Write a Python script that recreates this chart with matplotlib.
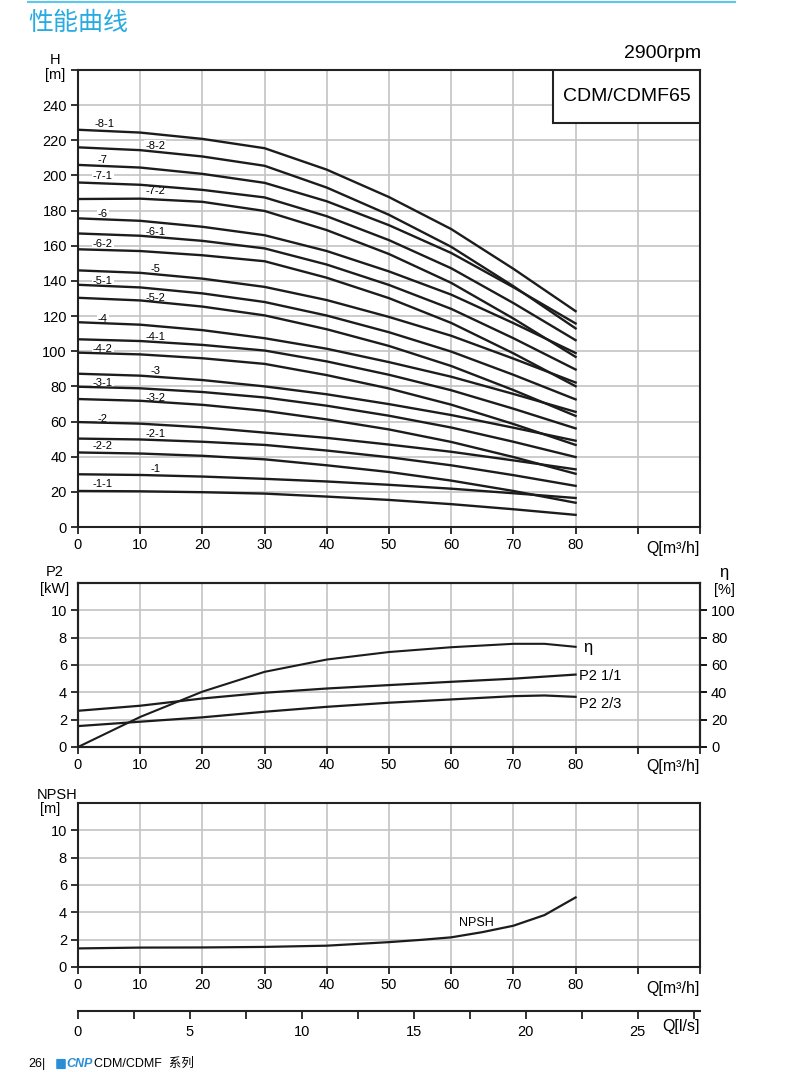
import numpy as np
import matplotlib
matplotlib.use('Agg')
import matplotlib.pyplot as plt
from matplotlib.patches import Rectangle, FancyBboxPatch
from matplotlib.lines import Line2D

plt.rcParams['font.family'] = ['Liberation Sans', 'Noto Sans CJK SC', 'DejaVu Sans']

# ---- data ----
Q_H = [0, 10, 20, 30, 40, 50, 60, 70, 80]
curve_names = ['-8-1', '-8-2', '-7', '-7-1', '-7-2', '-6', '-6-1', '-6-2',
               '-5', '-5-1', '-5-2', '-4', '-4-1', '-4-2', '-3', '-3-1', '-3-2',
               '-2', '-2-1', '-2-2', '-1', '-1-1']
curve_heads = [
    [226.0, 224.4, 220.8, 215.5, 203.3, 187.7, 169.5, 146.9, 122.8],
    [216.0, 214.4, 210.8, 205.5, 193.1, 177.6, 159.4, 137.0, 113.0],
    [206.0, 204.5, 200.9, 195.8, 185.3, 171.7, 155.9, 136.4, 115.8],
    [196.0, 194.7, 191.8, 187.5, 176.8, 163.2, 147.2, 127.4, 106.3],
    [186.6, 186.8, 185.0, 179.8, 168.9, 155.3, 138.9, 118.6, 96.8],
    [175.6, 174.2, 170.8, 166.0, 157.0, 145.4, 132.2, 116.0, 99.0],
    [167.0, 165.7, 162.8, 158.5, 149.3, 137.7, 124.1, 107.4, 89.6],
    [158.0, 157.0, 154.6, 151.2, 141.8, 130.2, 116.1, 98.8, 80.1],
    [146.0, 144.6, 141.3, 136.6, 129.1, 119.5, 108.8, 95.8, 82.2],
    [137.8, 136.3, 132.9, 128.0, 120.3, 110.8, 99.8, 86.6, 72.6],
    [130.4, 128.9, 125.4, 120.4, 112.5, 103.0, 91.6, 77.9, 63.2],
    [116.5, 115.1, 112.0, 107.4, 101.4, 93.8, 85.5, 75.7, 65.5],
    [106.8, 105.8, 103.6, 100.4, 94.2, 86.6, 77.8, 67.3, 56.1],
    [99.2, 98.2, 96.0, 92.8, 86.4, 78.8, 69.6, 58.6, 46.7],
    [87.2, 86.1, 83.6, 80.0, 75.5, 69.9, 63.7, 56.5, 49.1],
    [79.8, 78.9, 76.8, 73.7, 69.0, 63.3, 56.6, 48.5, 39.8],
    [72.8, 71.8, 69.5, 66.1, 61.2, 55.5, 48.4, 39.8, 30.3],
    [59.7, 58.8, 56.7, 53.7, 50.7, 46.9, 42.8, 37.9, 32.8],
    [50.3, 49.8, 48.5, 46.7, 43.5, 39.7, 35.1, 29.5, 23.4],
    [42.4, 41.8, 40.5, 38.5, 35.1, 31.3, 26.4, 20.5, 13.8],
    [30.0, 29.6, 28.7, 27.4, 25.9, 24.0, 21.8, 19.2, 16.5],
    [20.5, 20.3, 19.8, 19.0, 17.3, 15.4, 13.0, 10.1, 6.9],
]
# label anchors (Q, H) for the curve names
label_pos = [(4.3, 229), (12.4, 216.6), (4.0, 209), (4.0, 199.5), (12.4, 191),
             (4.0, 178), (12.4, 167.6), (4.0, 160.8), (12.4, 147), (4.0, 140),
             (12.4, 130.5), (4.0, 118.6), (12.4, 108.3), (4.0, 101.5), (12.4, 89),
             (4.0, 82), (12.4, 73.5), (4.0, 61.6), (12.4, 53), (4.0, 46.2),
             (12.4, 33), (4.0, 24.5)]

Q_P = [0, 10, 20, 30, 40, 50, 60, 70, 75, 80]
eta = [0, 22, 40.5, 55, 64, 69.5, 73, 75.5, 75.5, 73.3]
p2_full = [2.65, 3.02, 3.55, 3.97, 4.28, 4.53, 4.77, 5.0, 5.15, 5.3]
p2_23 = [1.53, 1.85, 2.17, 2.58, 2.94, 3.24, 3.48, 3.72, 3.77, 3.67]

Q_N = [0, 10, 20, 30, 40, 50, 55, 60, 65, 70, 75, 80]
npsh = [1.36, 1.42, 1.43, 1.47, 1.56, 1.82, 1.98, 2.17, 2.55, 3.02, 3.8, 5.09]

W, HT = 786, 1072
fig = plt.figure(figsize=(7.86, 10.72), dpi=100)

def fx(x):
    return x / W

def fy(y):
    return 1 - y / HT

def rect(top, bottom):
    return [fx(78), fy(bottom), fx(700) - fx(78), (bottom - top) / HT]

LINE = '#1c1c1c'
GRID = '#c4c4c4'

def style(ax, ymax, yticks):
    ax.set_xlim(0, 100)
    ax.set_ylim(0, ymax)
    ax.set_xticks(range(0, 101, 10))
    ax.set_xticklabels([str(v) if v <= 80 else '' for v in range(0, 101, 10)])
    ax.set_yticks(yticks)
    ax.grid(True, color=GRID, lw=1.2)
    ax.set_axisbelow(True)
    for s in ax.spines.values():
        s.set_linewidth(1.5)
        s.set_color('#222222')
    ax.tick_params(direction='out', length=5, width=1.3, labelsize=10.5,
                   pad=3, color='#222222')

# ---- header ----
fig.add_artist(Line2D([fx(28), fx(735)], [fy(1.5), fy(1.5)], color='#5bc8ec', lw=1.5))
fig.text(fx(28), fy(23), '性能曲线', fontsize=18, color='#29abe2',
         family=['Noto Sans CJK SC'], va='center', ha='left')
fig.text(fx(701), fy(53), '2900rpm', fontsize=14, ha='right', va='center')

# ---- head curves ----
ax1 = fig.add_axes(rect(70, 527))
style(ax1, 260, range(0, 261, 20))
ax1.set_yticklabels([str(v) if v <= 240 else '' for v in range(0, 261, 20)])
for name, hv, (lq, lh) in zip(curve_names, curve_heads, label_pos):
    ax1.plot(Q_H, hv, color=LINE, lw=1.7, zorder=3)
    ax1.text(lq, lh, name, fontsize=8, ha='center', va='center', zorder=1.5,
             bbox=dict(facecolor='white', edgecolor='none', pad=0.8))
ax1.add_patch(Rectangle((0.7637, 0.884), 0.2363, 0.116, transform=ax1.transAxes,
                        facecolor='white', edgecolor='#222222', lw=1.5, zorder=5))
ax1.text(0.882, 0.942, 'CDM/CDMF65', transform=ax1.transAxes, fontsize=14,
         ha='center', va='center', zorder=6)
fig.text(fx(55), fy(60), 'H', fontsize=10.5, ha='center', va='center')
fig.text(fx(55), fy(75), '[m]', fontsize=10.5, ha='center', va='center')
fig.text(fx(700), fy(548), 'Q[m³/h]', fontsize=11.5, ha='right', va='center')

# ---- power / efficiency ----
ax2 = fig.add_axes(rect(583, 747))
style(ax2, 12, range(0, 11, 2))
ax2r = ax2.twinx()
ax2r.set_ylim(0, 120)
ax2r.set_yticks(range(0, 101, 20))
ax2r.tick_params(direction='out', length=5, width=1.3, labelsize=10.5, pad=3)
for s in ax2r.spines.values():
    s.set_linewidth(1.5)
    s.set_color('#222222')
ax2r.plot(Q_P, eta, color=LINE, lw=1.5)
ax2.plot(Q_P, p2_full, color=LINE, lw=1.6)
ax2.plot(Q_P, p2_23, color=LINE, lw=1.6)
ax2.text(81.2, 7.25, 'η', fontsize=12, ha='left', va='center')
ax2.text(80.6, 5.2, 'P2 1/1', fontsize=10.5, ha='left', va='center')
ax2.text(80.6, 3.15, 'P2 2/3', fontsize=10.5, ha='left', va='center')
fig.text(fx(55), fy(572), 'P2', fontsize=10.5, ha='center', va='center')
fig.text(fx(55), fy(589), '[kW]', fontsize=10.5, ha='center', va='center')
fig.text(fx(724), fy(572), 'η', fontsize=12, ha='center', va='center')
fig.text(fx(724), fy(590), '[%]', fontsize=10.5, ha='center', va='center')
fig.text(fx(700), fy(767), 'Q[m³/h]', fontsize=11.5, ha='right', va='center')

# ---- NPSH ----
ax3 = fig.add_axes(rect(803, 967))
style(ax3, 12, range(0, 11, 2))
ax3.plot(Q_N, npsh, color=LINE, lw=1.6)
ax3.text(64, 3.25, 'NPSH', fontsize=9, ha='center', va='center')
fig.text(fx(57), fy(795), 'NPSH', fontsize=10.5, ha='center', va='center')
fig.text(fx(50), fy(809), '[m]', fontsize=10.5, ha='center', va='center')
fig.text(fx(700), fy(988), 'Q[m³/h]', fontsize=11.5, ha='right', va='center')

# ---- l/s scale ----
ax4 = fig.add_axes([fx(78), fy(1011), fx(700) - fx(78), 0.0001])
ax4.set_xlim(0, 100 / 3.6)
ax4.set_yticks([])
for k in ['top', 'left', 'right']:
    ax4.spines[k].set_visible(False)
ax4.spines['bottom'].set_linewidth(1.5)
ax4.spines['bottom'].set_color('#222222')
ax4.set_xticks(range(0, 26, 5))
ax4.set_xticks(np.arange(2.5, 27.6, 5), minor=True)
ax4.tick_params(which='both', direction='out', length=6, width=1.3,
                labelsize=10.5, pad=4, color='#222222')
fig.text(fx(700), fy(1026), 'Q[l/s]', fontsize=11.5, ha='right', va='center')

# ---- footer ----
fig.text(fx(28), fy(1064), '26|', fontsize=9, ha='left', va='center')
fig.add_artist(FancyBboxPatch((fx(57), fy(1068)), fx(8), 8 / HT,
                              boxstyle='round,pad=0.001', transform=fig.transFigure,
                              facecolor='#2a8fd6', edgecolor='none'))
fig.text(fx(66), fy(1064), 'CNP', fontsize=9, ha='left', va='center',
         color='#2a8fd6', weight='bold', style='italic')
fig.text(fx(94), fy(1064), 'CDM/CDMF  系列', fontsize=9, ha='left', va='center')

fig.savefig('out.png', dpi=100)
